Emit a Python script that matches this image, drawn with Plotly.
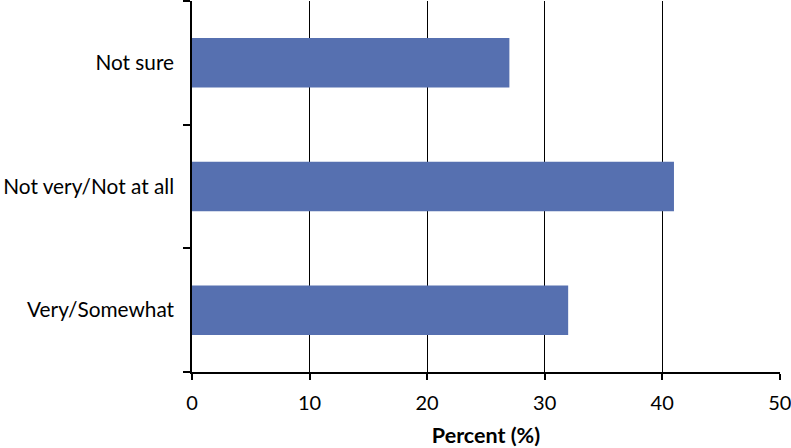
import plotly.graph_objects as go

categories = ["Very/Somewhat", "Not very/Not at all", "Not sure"]
values = [32, 41, 27]
x_ticks = [0, 10, 20, 30, 40, 50]

fig = go.Figure(go.Bar(
    x=values, y=categories, orientation="h",
    marker=dict(color="#5670B0", line=dict(width=0)),
))

font_family = "Lato, Carlito, Calibri, sans-serif"

fig.update_layout(
    width=791, height=448,
    margin=dict(l=192, r=11, t=1, b=76),
    paper_bgcolor="white", plot_bgcolor="white",
    bargap=0.6,
    showlegend=False,
    font=dict(family=font_family, size=21, color="black"),
)
fig.update_xaxes(
    range=[0, 50.02], tickvals=x_ticks, ticktext=[str(v) for v in x_ticks],
    showgrid=True, gridcolor="black", gridwidth=1.3,
    showline=True, linecolor="black", linewidth=1.5,
    ticks="outside", ticklen=6, tickcolor="black", tickwidth=1.5,
    zeroline=False, automargin=False,
    ticklabeloverflow="allow", ticklabelstandoff=6,
    title=dict(text="<b>Percent (%)</b>", font=dict(size=21.5, family=font_family), standoff=15),
    tickfont=dict(size=20),
)
fig.update_yaxes(
    categoryorder="array", categoryarray=categories,
    showgrid=False, showline=True, linecolor="black", linewidth=1.5,
    ticks="outside", ticklen=7, tickcolor="black", tickwidth=1.5,
    tickson="boundaries", ticklabelstandoff=12, automargin=False,
    tickfont=dict(size=20.8),
)

fig.write_html(
    "out.html",
    config={"displayModeBar": False},
    post_script="document.body.style.margin='0';document.body.style.padding='0';",
)
